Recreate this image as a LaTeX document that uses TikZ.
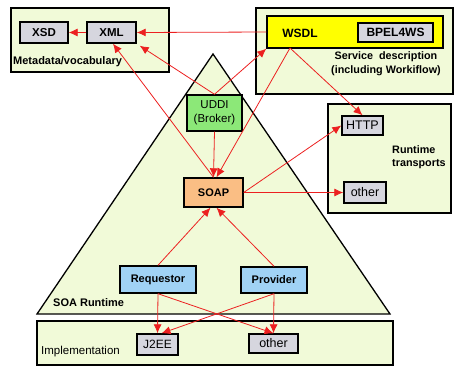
\documentclass[tikz,border=0pt]{standalone}
\usepackage{fontspec}
\setmainfont{Liberation Sans}
\usetikzlibrary{arrows.meta}

\definecolor{panelfill}{RGB}{241,250,216}
\definecolor{tagfill}{RGB}{214,214,222}
\definecolor{brokerfill}{RGB}{140,232,120}
\definecolor{soapfill}{RGB}{250,190,132}
\definecolor{rolefill}{RGB}{160,210,245}
\definecolor{wsdlfill}{RGB}{255,255,0}
\definecolor{linkred}{RGB}{236,32,32}

\tikzset{
  panel/.style={draw=black, line width=1.6pt, fill=panelfill, inner sep=0pt, minimum width=#1},
  box/.style={draw=black, line width=1.4pt, inner sep=0pt, align=center},
  tag/.style={box, fill=tagfill},
  label/.style={inner sep=0pt, font=\fontsize{11}{13}\selectfont\bfseries},
  arr/.style={draw=linkred, line width=0.8pt, -{Latex[length=9pt,width=8pt]}},
}

\begin{document}
\begin{tikzpicture}[x=1pt,y=-1pt]
\useasboundingbox (0,0) rectangle (455,365);

% SOA runtime triangle
\coordinate (tl) at (37,314);
\coordinate (tt) at (213,54);
\coordinate (tr) at (390,314);
\draw[line width=1.3pt, fill=panelfill, line join=miter] (tl) -- (tt) -- (tr) -- cycle;

% Surrounding panels
\node[panel=158pt, minimum height=64pt, anchor=north west] (meta) at (10,7) {};
\node[panel=197pt, minimum height=86pt, anchor=north west] (desc) at (255,7) {};
\node[panel=123pt, minimum height=109pt, anchor=north west] (trans) at (327,103) {};
\node[panel=356pt, minimum height=44pt, anchor=north west] (impl) at (36,320) {};

% Metadata / vocabulary
\node[tag, minimum width=48pt, minimum height=21pt, font=\fontsize{11.5}{13}\selectfont\bfseries] (xsd) at (44,32.5) {XSD};
\node[tag, minimum width=49pt, minimum height=21pt, font=\fontsize{11.5}{13}\selectfont\bfseries] (xml) at (111.5,32.5) {XML};
\node[label, anchor=west] (metalbl) at (13,62) {Metadata/vocabulary};

% Service description
\node[box, fill=wsdlfill, minimum width=176pt, minimum height=32pt] (wsdlbar) at (355,32) {};
\node[inner sep=0pt, font=\fontsize{12}{14}\selectfont\bfseries] (wsdl) at (300,33) {WSDL};
\node[tag, minimum width=75pt, minimum height=19pt, font=\fontsize{12}{14}\selectfont\bfseries] (bpel) at (395.5,32.5) {BPEL4WS};
\node[label, align=center, font=\fontsize{10.8}{14}\selectfont\bfseries] (desclbl) at (386,64) {Service\ \ description\\(including Workiflow)};
\coordinate (wsdlfoot) at (290,48);

% Runtime transports
\node[tag, minimum width=41pt, minimum height=19pt, font=\fontsize{12.5}{14}\selectfont] (http) at (362.5,125.5) {HTTP};
\node[tag, minimum width=42pt, minimum height=21pt, font=\fontsize{12.5}{14}\selectfont] (tother) at (365,192.5) {other};
\node[label, align=left, anchor=west, font=\fontsize{10.8}{12.5}\selectfont\bfseries] (translbl) at (392,157) {Runtime\\transports};

% SOA runtime
\node[box, fill=brokerfill, minimum width=55pt, minimum height=36pt, font=\fontsize{11.5}{14}\selectfont] (uddi) at (214.5,113) {UDDI\\(Broker)};
\node[box, fill=soapfill, minimum width=59pt, minimum height=29pt, font=\fontsize{11}{13}\selectfont\bfseries] (soap) at (213.5,192.5) {SOAP};
\node[box, fill=rolefill, minimum width=76pt, minimum height=27pt, font=\fontsize{11}{13}\selectfont\bfseries] (req) at (158,279.5) {Requestor};
\node[box, fill=rolefill, minimum width=66pt, minimum height=26pt, font=\fontsize{11}{13}\selectfont\bfseries] (prov) at (274,280) {Provider};
\node[label, anchor=west] (soalbl) at (53,303) {SOA Runtime};

% Implementation
\node[tag, minimum width=41pt, minimum height=21pt, font=\fontsize{12}{14}\selectfont] (j2ee) at (157.5,344.5) {J2EE};
\node[tag, minimum width=49pt, minimum height=19pt, font=\fontsize{12.5}{14}\selectfont] (iother) at (273.5,343.5) {other};
\node[label, anchor=west, font=\fontsize{11.5}{13}\selectfont] (impllbl) at (41,352) {Implementation};

% Connectors
\draw[arr] (wsdlbar.west) -- (xml.east);
\draw[arr] (xml.west) -- (xsd.east);
\draw[arr] (uddi.north) -- ([xshift=3pt,yshift=-2pt]xml.south east);
\draw[arr] (uddi.north) -- (wsdlbar.south west);
\draw[arr] (soap.north) -- ([xshift=1.5pt]xml.south);
\draw[arr] (uddi.south) -- (soap.north);
\draw[arr] (wsdlfoot) -- ([xshift=3pt]soap.north);
\draw[arr] (wsdlfoot) -- (http.north);
\draw[arr] (soap.east) -- (http.west);
\draw[arr] (soap.east) -- (tother.west);
\draw[arr] (req.north) -- ([xshift=-3pt]soap.south);
\draw[arr] (prov.north) -- ([xshift=3pt]soap.south);
\draw[arr] (req.south) -- (j2ee.north);
\draw[arr] (req.south) -- (iother.north);
\draw[arr] (prov.south) -- (iother.north);
\draw[arr] (prov.south) -- ([xshift=4pt]j2ee.north);
\end{tikzpicture}
\end{document}
